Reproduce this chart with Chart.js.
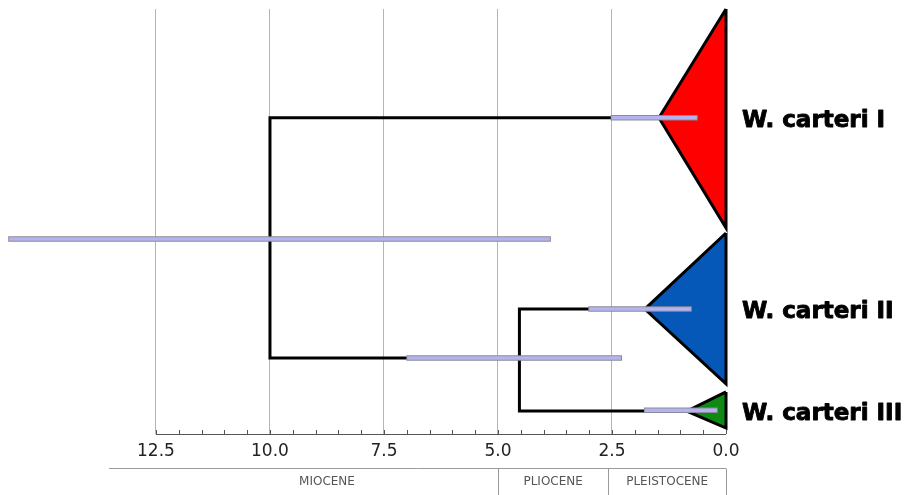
<!DOCTYPE html>
<html>
<head>
<meta charset="utf-8">
<script src="https://cdn.jsdelivr.net/npm/chart.js@4.4.1/dist/chart.umd.min.js"></script>
<style>
  html, body { margin: 0; padding: 0; background: #fff; }
  #wrap { width: 906px; height: 495px; }
</style>
</head>
<body>
<div id="wrap"><canvas id="tree" width="906" height="495"></canvas></div>
<script>
// time axis (Ma), 0 = present
var majorTicks = [0, 2.5, 5, 7.5, 10, 12.5];
var minorStep = 0.5;

// clades: collapsed triangles (apex age, apex row, top row, bottom row)
var cladeNames  = ['W. carteri I', 'W. carteri II', 'W. carteri III'];
var cladeColors = ['#ff0000', '#0558b8', '#0e8a12'];
var cladeAge    = [1.47, 1.78, 0.86];
var cladeRow    = [25.6, 70.6, 94.6];
var cladeTop    = [0, 52.7, 90.1];
var cladeBottom = [51.5, 88.2, 98.6];

// internal nodes
var rootAge = 10.0, rootRow = 54.1;
var node2Age = 4.53, node2Row = 82.1;

// 95% HPD bars on node ages [older, younger, row]
var hpdOld   = [15.72, 2.51, 3.0, 6.99, 1.78];
var hpdYoung = [3.86, 0.64, 0.77, 2.30, 0.20];
var hpdRow   = [54.1, 25.6, 70.6, 82.1, 94.4];

// geological epochs
var epochNames = ['MIOCENE', 'PLIOCENE', 'PLEISTOCENE'];
var epochStart = [13.53, 5.0, 2.58];
var epochEnd   = [5.0, 2.58, 0];
var epochMid   = [8.75, 3.79, 1.29];

var tickValues = [];
for (var t = 0; t <= 12.5 + 1e-9; t += minorStep) tickValues.push(Math.round(t * 10) / 10);

var datasets = [];

// error bars (on top)
for (var i = 0; i < hpdOld.length; i++) {
    datasets.push({ data: [{x: hpdOld[i], y: hpdRow[i]}, {x: hpdYoung[i], y: hpdRow[i]}],
        borderColor: '#b3b3f0', borderWidth: 3.5, order: 1 });
    datasets.push({ data: [{x: hpdOld[i] + 0.02, y: hpdRow[i]}, {x: hpdYoung[i] - 0.02, y: hpdRow[i]}],
        borderColor: '#8a8a98', borderWidth: 5.5, order: 2 });
}

// branches
datasets.push({ data: [{x: cladeAge[0], y: cladeRow[0]}, {x: rootAge, y: cladeRow[0]},
                       {x: rootAge, y: node2Row}, {x: node2Age, y: node2Row}],
    borderColor: '#000', borderWidth: 3, order: 3 });
datasets.push({ data: [{x: cladeAge[1], y: cladeRow[1]}, {x: node2Age, y: cladeRow[1]},
                       {x: node2Age, y: cladeRow[2]}, {x: cladeAge[2], y: cladeRow[2]}],
    borderColor: '#000', borderWidth: 3, order: 3 });

// triangles
for (var c = 0; c < cladeNames.length; c++) {
    datasets.push({ data: [{x: 0, y: cladeTop[c]}, {x: cladeAge[c], y: cladeRow[c]},
                           {x: 0, y: cladeBottom[c]}, {x: 0, y: cladeTop[c]}],
        borderColor: '#000', borderWidth: 3, order: 4 });
    datasets.push({ data: [{x: cladeAge[c], y: cladeRow[c]}, {x: 0, y: cladeTop[c]}],
        borderWidth: 0, borderColor: 'transparent', backgroundColor: cladeColors[c], fill: '+1', order: 5 });
    datasets.push({ data: [{x: cladeAge[c], y: cladeRow[c]}, {x: 0, y: cladeBottom[c]}],
        borderWidth: 0, borderColor: 'transparent', backgroundColor: cladeColors[c], fill: false, order: 5 });
}

datasets.forEach(function (d) {
    d.showLine = true;
    d.pointRadius = 0;
    d.pointHoverRadius = 0;
    d.clip = false;
    d.borderJoinStyle = 'miter';
    d.borderCapStyle = 'butt';
    d.tension = 0;
});

var overlay = {
    id: 'overlay',
    afterDraw: function (chart) {
        var ctx = chart.ctx, x = chart.scales.x, y = chart.scales.y;
        var base = chart.chartArea.bottom;
        ctx.save();
        // axis line + upward ticks
        ctx.strokeStyle = '#555';
        ctx.lineWidth = 1;
        ctx.beginPath();
        ctx.moveTo(x.getPixelForValue(12.5), base + 0.5);
        ctx.lineTo(x.getPixelForValue(0), base + 0.5);
        x.ticks.forEach(function (tk) {
            var px = Math.round(x.getPixelForValue(tk.value)) + 0.5;
            ctx.moveTo(px, base);
            ctx.lineTo(px, base - 4);
        });
        ctx.stroke();

        // epoch boxes
        var top = 468.5;
        ctx.strokeStyle = '#9a9a9a';
        ctx.beginPath();
        ctx.moveTo(x.getPixelForValue(epochStart[0]), top);
        ctx.lineTo(x.getPixelForValue(0), top);
        for (var i = 0; i < epochEnd.length; i++) {
            var px = Math.round(x.getPixelForValue(epochEnd[i])) + 0.5;
            ctx.moveTo(px, top);
            ctx.lineTo(px, 495);
        }
        ctx.stroke();
        ctx.fillStyle = '#555';
        ctx.font = '12px "DejaVu Sans"';
        ctx.textAlign = 'center';
        ctx.textBaseline = 'middle';
        epochNames.forEach(function (n, i) {
            ctx.fillText(n, x.getPixelForValue(epochMid[i]), 482);
        });

        // clade names
        ctx.fillStyle = '#000';
        ctx.strokeStyle = '#000';
        ctx.lineWidth = 0.9;
        ctx.lineJoin = 'round';
        ctx.font = 'bold 23px "DejaVu Sans"';
        ctx.textAlign = 'left';
        cladeNames.forEach(function (n, i) {
            var ty = y.getPixelForValue(cladeRow[i]) + 3;
            ctx.fillText(n, chart.chartArea.right + 16, ty);
            ctx.strokeText(n, chart.chartArea.right + 16, ty);
        });
        ctx.restore();
    }
};

new Chart(document.getElementById('tree').getContext('2d'), {
    type: 'scatter',
    data: { datasets: datasets },
    options: {
        responsive: false,
        animation: false,
        events: [],
        layout: { padding: { top: 9, right: 180, left: 0, bottom: 0 } },
        plugins: { legend: { display: false }, tooltip: { enabled: false } },
        scales: {
            x: {
                type: 'linear',
                position: 'bottom',
                reverse: true,
                min: 0,
                max: 15.92,
                afterBuildTicks: function (scale) {
                    scale.ticks = tickValues.map(function (v) { return { value: v }; });
                },
                afterFit: function (scale) { scale.height = 61; },
                border: { display: false },
                grid: {
                    drawTicks: false,
                    lineWidth: 1,
                    color: function (ctx) {
                        var v = ctx.tick ? ctx.tick.value : -1;
                        return (v > 0 && majorTicks.indexOf(v) >= 0) ? '#b5b5b5' : 'rgba(0,0,0,0)';
                    }
                },
                ticks: {
                    autoSkip: false,
                    maxRotation: 0,
                    padding: 7,
                    color: '#222',
                    font: { family: '"DejaVu Sans"', size: 17 },
                    callback: function (v) {
                        return majorTicks.indexOf(v) >= 0 ? v.toFixed(1) : '';
                    }
                }
            },
            y: {
                type: 'linear',
                display: false,
                reverse: true,
                min: 0,
                max: 100
            }
        }
    },
    plugins: [overlay]
});
</script>
</body>
</html>
